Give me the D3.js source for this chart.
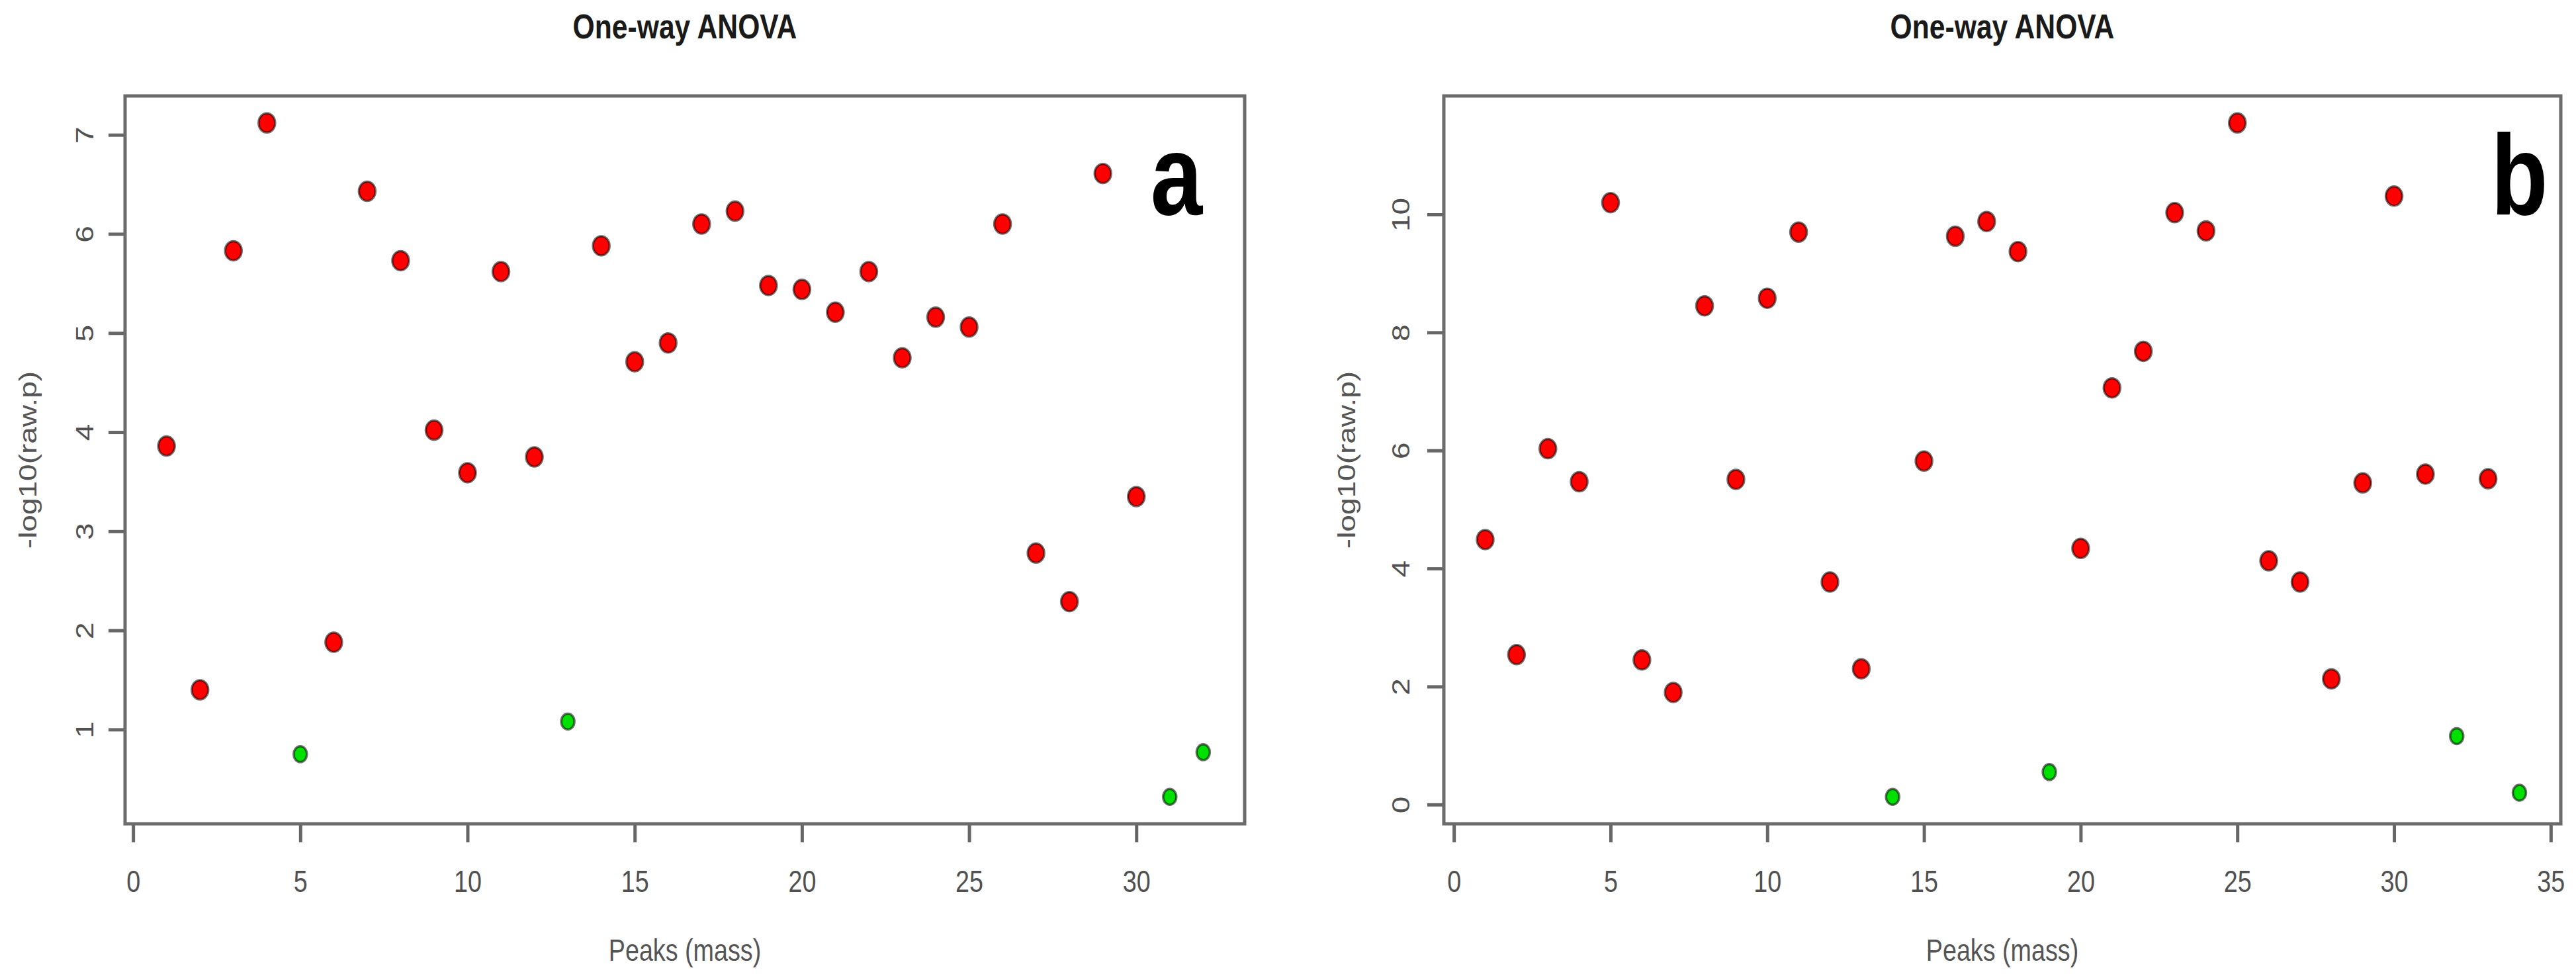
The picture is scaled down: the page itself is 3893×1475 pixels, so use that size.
<!DOCTYPE html>
<html lang="en">
<head>
    <meta charset="UTF-8">
    <title>One-way ANOVA</title>
    <script src="https://d3js.org/d3.v7.min.js"></script>
    <style>
        body { margin: 0; background: #fff; }
        text { font-family: "Liberation Sans", Arial, sans-serif; }
    </style>
</head>
<body>
<script>
    // peak index and -log10(raw.p), panel a
    var peaksA = [1, 2, 3, 4, 5, 6, 7, 8, 9, 10, 11, 12, 13, 14, 15, 16,
                  17, 18, 19, 20, 21, 22, 23, 24, 25, 26, 27, 28, 29, 30, 31, 32];
    var pA = [3.86, 1.40, 5.83, 7.12, 0.75, 1.88, 6.43, 5.73, 4.02, 3.59, 5.62, 3.75, 1.08, 5.88, 4.71, 4.90,
              6.10, 6.23, 5.48, 5.44, 5.21, 5.62, 4.75, 5.16, 5.06, 6.10, 2.78, 2.29, 6.61, 3.35, 0.32, 0.77];
    var notSigA = [5, 13, 31, 32]; // green points

    // panel b
    var peaksB = [1, 2, 3, 4, 5, 6, 7, 8, 9, 10, 11, 12, 13, 14, 15, 16, 17,
                  18, 19, 20, 21, 22, 23, 24, 25, 26, 27, 28, 29, 30, 31, 32, 33, 34];
    var pB = [4.49, 2.54, 6.03, 5.47, 10.20, 2.45, 1.90, 8.45, 5.51, 8.58, 9.70, 3.77, 2.30, 0.13, 5.82, 9.63, 9.88,
              9.37, 0.55, 4.34, 7.06, 7.68, 10.03, 9.72, 11.55, 4.13, 3.77, 2.13, 5.45, 10.31, 5.60, 1.16, 5.52, 0.20];
    var notSigB = [14, 19, 32, 34];

    var xTicksA = [0, 5, 10, 15, 20, 25, 30];
    var yTicksA = [1, 2, 3, 4, 5, 6, 7];
    var xTicksB = [0, 5, 10, 15, 20, 25, 30, 35];
    var yTicksB = [0, 2, 4, 6, 8, 10];

    var w = 3893, h = 1475;
    var SX = 0.82; // the original figure is squeezed horizontally
    var plotTop = 145, plotBottom = 1245;

    var svg = d3.select("body").append("svg")
        .attr("width", w)
        .attr("height", h);

    // R style axis range: data extent plus 4% on each side
    function rDomain(vals) {
        var e = d3.extent(vals);
        var pad = (e[1] - e[0]) * 0.04;
        return [e[0] - pad, e[1] + pad];
    }

    function drawPanel(cfg) {
        var g = svg.append("g");

        var x = d3.scaleLinear().domain(rDomain(cfg.peaks)).range([cfg.left, cfg.right]);
        var y = d3.scaleLinear().domain(rDomain(cfg.vals)).range([plotBottom, plotTop]);

        // x axis
        var gx = g.append("g")
            .attr("transform", "translate(0," + plotBottom + ")")
            .call(d3.axisBottom(x).tickValues(cfg.xTicks).tickSizeInner(28).tickSizeOuter(0).tickFormat(d3.format("d")));
        gx.select(".domain").remove();
        gx.selectAll(".tick line").attr("stroke", "#666").attr("stroke-width", 5);
        gx.selectAll(".tick text")
            .attr("y", 103).attr("dy", 0)
            .attr("transform", "scale(" + SX + ",1)")
            .attr("font-size", 46)
            .attr("fill", "#505050");

        // y axis, labels parallel to axis
        var gy = g.append("g")
            .attr("transform", "translate(" + cfg.left + ",0)")
            .call(d3.axisLeft(y).tickValues(cfg.yTicks).tickSizeInner(25).tickSizeOuter(0).tickFormat(d3.format("d")));
        gy.select(".domain").remove();
        gy.selectAll(".tick line").attr("stroke", "#666").attr("stroke-width", 5);
        gy.selectAll(".tick text")
            .attr("x", 0).attr("y", 0).attr("dy", "0.35em")
            .attr("text-anchor", "middle")
            .attr("transform", "translate(" + cfg.yLabelOff + ",0) scale(" + SX + ",1) rotate(-90)")
            .attr("font-size", 46)
            .attr("fill", "#505050");

        // box
        g.append("rect")
            .attr("x", cfg.left).attr("y", plotTop)
            .attr("width", cfg.right - cfg.left).attr("height", plotBottom - plotTop)
            .attr("fill", "none")
            .attr("stroke", "#6b6b6b")
            .attr("stroke-width", 5);

        // points
        g.selectAll("ellipse")
            .data(cfg.peaks)
            .enter()
            .append("ellipse")
            .attr("cx", function(d) { return x(d); })
            .attr("cy", function(d, i) { return y(cfg.vals[i]); })
            .attr("rx", function(d) { return cfg.notSig.indexOf(d) >= 0 ? 10 : 12.5; })
            .attr("ry", function(d) { return cfg.notSig.indexOf(d) >= 0 ? 12 : 14.5; })
            .attr("fill", function(d) { return cfg.notSig.indexOf(d) >= 0 ? "#00e000" : "#ff0000"; })
            .attr("stroke", "#000")
            .attr("stroke-opacity", 0.55)
            .attr("stroke-width", 3.5);

        var cx = (cfg.left + cfg.right) / 2;

        // title
        g.append("text")
            .attr("transform", "translate(" + cx + ",58) scale(" + SX + ",1)")
            .attr("text-anchor", "middle")
            .attr("font-size", 52)
            .attr("font-weight", "bold")
            .attr("fill", "#1a1a1a")
            .text("One-way ANOVA");

        // axis titles
        g.append("text")
            .attr("transform", "translate(" + cx + "," + (plotBottom + 207) + ") scale(" + SX + ",1)")
            .attr("text-anchor", "middle")
            .attr("font-size", 46)
            .attr("fill", "#555")
            .text("Peaks (mass)");

        g.append("text")
            .attr("transform", "translate(" + (cfg.left - 147) + "," + ((plotTop + plotBottom) / 2) + ") scale(" + SX + ",1) rotate(-90)")
            .attr("dy", "0.35em")
            .attr("text-anchor", "middle")
            .attr("font-size", 46)
            .attr("fill", "#555")
            .text("-log10(raw.p)");

        // panel letter
        g.append("text")
            .attr("transform", "translate(" + x(cfg.letterPos[0]) + "," + y(cfg.letterPos[1]) + ") scale(" + SX + ",1)")
            .attr("text-anchor", "middle")
            .attr("font-size", 172)
            .attr("font-weight", "bold")
            .attr("fill", "#000")
            .text(cfg.letter);
    }

    drawPanel({
        peaks: peaksA, vals: pA, notSig: notSigA,
        xTicks: xTicksA, yTicks: yTicksA,
        left: 189, right: 1881, yLabelOff: -61,
        letter: "a", letterPos: [31.2, 6.2]
    });

    drawPanel({
        peaks: peaksB, vals: pB, notSig: notSigB,
        xTicks: xTicksB, yTicks: yTicksB,
        left: 2182, right: 3870, yLabelOff: -65,
        letter: "b", letterPos: [34.0, 10.0]
    });
</script>
</body>
</html>
